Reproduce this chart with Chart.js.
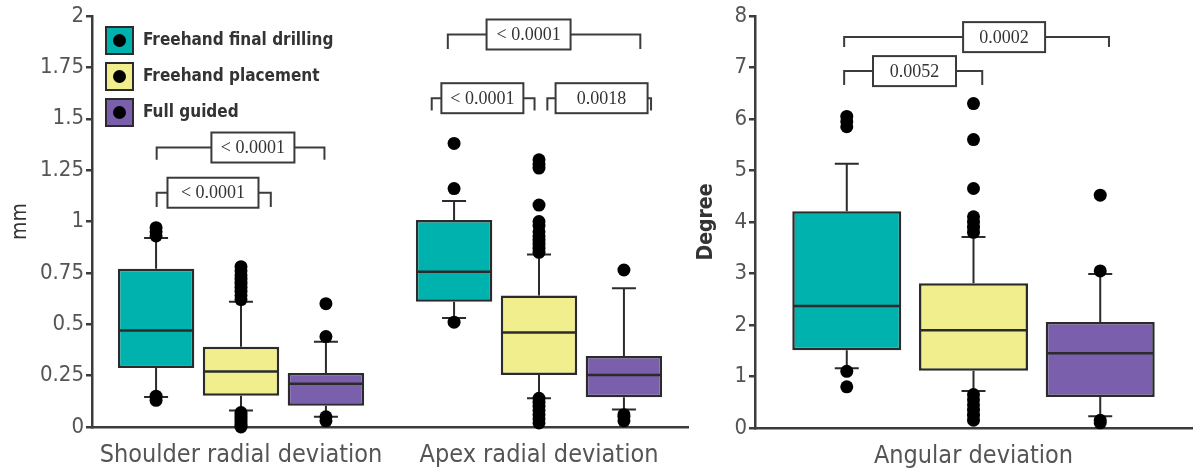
<!DOCTYPE html>
<html>
<head>
<meta charset="utf-8">
<script src="https://cdn.jsdelivr.net/npm/chart.js@4"></script>
<style>
    html, body { margin: 0; padding: 0; background: #fff; }
    #wrap { position: relative; width: 1197px; height: 470px; }
    .panel { position: absolute; top: 0; height: 470px; }
    #leftPanel { left: 0; width: 690px; }
    #rightPanel { left: 690px; width: 507px; }
</style>
</head>
<body>
<div id="wrap">
    <div class="panel" id="leftPanel"><canvas id="mmChart"></canvas></div>
    <div class="panel" id="rightPanel"><canvas id="degChart"></canvas></div>
</div>
<script>
// groups and categories
const groups = ['Freehand final drilling', 'Freehand placement', 'Full guided'];
const groupColors = ['#00b2ae', '#f1ee8e', '#7a5fac'];
const mmCategories = ['Shoulder radial deviation', 'Apex radial deviation'];
const degCategories = ['Angular deviation'];

// box stats per category: [whisker low, q1, median, q3, whisker high]
const mmDrilling = [[0.146, 0.287, 0.47, 0.77, 0.92], [0.53, 0.61, 0.755, 1.007, 1.10]];
const mmPlacement = [[0.08, 0.152, 0.27, 0.39, 0.61], [0.14, 0.253, 0.46, 0.64, 0.84]];
const mmGuided = [[0.05, 0.103, 0.21, 0.263, 0.415], [0.085, 0.145, 0.253, 0.345, 0.675]];

const mmDrillingOut = [[0.13, 0.15, 0.93, 0.95, 0.97], [0.51, 1.16, 1.38]];
const mmPlacementOut = [
    [0.0, 0.01, 0.02, 0.03, 0.04, 0.05, 0.06, 0.07, 0.62, 0.64, 0.66, 0.68, 0.70, 0.72, 0.74, 0.76, 0.78],
    [0.02, 0.04, 0.06, 0.08, 0.10, 0.12, 0.14, 0.85, 0.87, 0.89, 0.91, 0.93, 0.95, 0.98, 1.0, 1.08, 1.26, 1.28, 1.30]
];
const mmGuidedOut = [[0.03, 0.05, 0.44, 0.60], [0.03, 0.05, 0.06, 0.764]];

const degDrilling = [[1.16, 1.51, 2.37, 4.21, 5.13]];
const degPlacement = [[0.72, 1.11, 1.9, 2.81, 3.71]];
const degGuided = [[0.23, 0.6, 1.45, 2.06, 2.99]];

const degDrillingOut = [[0.8, 1.1, 5.85, 5.95, 6.05]];
const degPlacementOut = [[0.15, 0.25, 0.35, 0.45, 0.55, 0.65, 3.8, 3.9, 4.0, 4.1, 4.65, 5.6, 6.3]];
const degGuidedOut = [[0.1, 0.15, 3.05, 4.52]];

// tick labels
const mmTicks = [0, 0.25, 0.5, 0.75, 1, 1.25, 1.5, 1.75, 2];
const degTicks = [0, 1, 2, 3, 4, 5, 6, 7, 8];

// p-values for the comparison brackets
const mmPValues = ['< 0.0001', '< 0.0001', '< 0.0001', '< 0.0001', '0.0018'];
const degPValues = ['0.0052', '0.0002'];

const INK = '#2b2b2b';
const AXIS = '#3c3c3c';
const TICK_FONT = "'DejaVu Sans Condensed', 'DejaVu Sans', sans-serif";

function boxDataset(i, stats, outliers) {
    return {
        label: groups[i],
        data: stats.map(s => [s[1], s[3]]),
        stats: stats,
        outliers: outliers,
        backgroundColor: groupColors[i],
        borderColor: INK,
        borderWidth: 2.5,
        borderSkipped: false,
        barPercentage: 0.9,
        categoryPercentage: 0.855
    };
}

// draws whiskers, medians, outliers, brackets and the legend
const boxPlugin = {
    id: 'boxExtras',
    afterDatasetsDraw(chart, args, opts) {
        const ctx = chart.ctx;
        const xs = chart.scales.x;
        const ys = chart.scales.y;
        ctx.save();
        chart.data.datasets.forEach((ds, di) => {
            const meta = chart.getDatasetMeta(di);
            meta.data.forEach((bar, i) => {
                const s = ds.stats[i];
                const x = bar.x;
                const half = bar.width / 2;
                const cap = 12;
                ctx.strokeStyle = INK;
                ctx.lineWidth = 2;
                ctx.beginPath();
                ctx.moveTo(x, ys.getPixelForValue(s[3]));
                ctx.lineTo(x, ys.getPixelForValue(s[4]));
                ctx.moveTo(x - cap, ys.getPixelForValue(s[4]));
                ctx.lineTo(x + cap, ys.getPixelForValue(s[4]));
                ctx.moveTo(x, ys.getPixelForValue(s[1]));
                ctx.lineTo(x, ys.getPixelForValue(s[0]));
                ctx.moveTo(x - cap, ys.getPixelForValue(s[0]));
                ctx.lineTo(x + cap, ys.getPixelForValue(s[0]));
                ctx.stroke();
                ctx.lineWidth = 2.5;
                ctx.beginPath();
                ctx.moveTo(x - half + 1, ys.getPixelForValue(s[2]));
                ctx.lineTo(x + half - 1, ys.getPixelForValue(s[2]));
                ctx.stroke();
                ctx.fillStyle = '#000';
                ds.outliers[i].forEach(v => {
                    ctx.beginPath();
                    ctx.arc(x, ys.getPixelForValue(v), 6.5, 0, Math.PI * 2);
                    ctx.fill();
                });
            });
        });

        // comparison brackets
        (opts.brackets || []).forEach((b, k) => {
            const x1 = xs.getPixelForValue(b.cat + b.from);
            const x2 = xs.getPixelForValue(b.cat + b.to);
            const y = ys.getPixelForValue(b.y);
            const yl = ys.getPixelForValue(b.leg);
            ctx.strokeStyle = AXIS;
            ctx.lineWidth = 2;
            ctx.beginPath();
            ctx.moveTo(x1, yl);
            ctx.lineTo(x1, y);
            ctx.lineTo(x2, y);
            ctx.lineTo(x2, yl);
            ctx.stroke();
            const lx = xs.getPixelForValue(b.cat + b.label);
            ctx.fillStyle = '#fff';
            ctx.fillRect(lx - b.w / 2, y - 15, b.w, 30);
            ctx.strokeStyle = '#3a3a3a';
            ctx.lineWidth = 2;
            ctx.strokeRect(lx - b.w / 2, y - 15, b.w, 30);
            ctx.fillStyle = '#333';
            ctx.font = "18px 'Liberation Serif', serif";
            ctx.textAlign = 'center';
            ctx.textBaseline = 'middle';
            ctx.fillText(opts.pValues[k], lx, y + 1);
        });

        // legend inside the plot
        if (opts.legend) {
            const area = chart.chartArea;
            chart.data.datasets.forEach((ds, i) => {
                const lx = area.left + 14;
                const ly = area.top + 11 + i * 36;
                ctx.fillStyle = ds.backgroundColor;
                ctx.fillRect(lx, ly, 27, 27);
                ctx.strokeStyle = INK;
                ctx.lineWidth = 2;
                ctx.strokeRect(lx, ly, 27, 27);
                ctx.fillStyle = '#000';
                ctx.beginPath();
                ctx.arc(lx + 13.5, ly + 13.5, 6.5, 0, Math.PI * 2);
                ctx.fill();
                ctx.fillStyle = '#333';
                ctx.font = "bold 17px " + TICK_FONT;
                ctx.textAlign = 'left';
                ctx.textBaseline = 'middle';
                ctx.fillText(ds.label, lx + 37, ly + 14);
            });
        }
        ctx.restore();
    }
};

function makeScales(tickValues, max, yTitle, yWidth, xHeight, titleGap, titleWeight) {
    return {
        x: {
            type: 'category',
            offset: true,
            grid: { display: false },
            border: { display: true, color: AXIS, width: 2.5 },
            ticks: { color: '#555', font: { family: TICK_FONT, size: 25 }, padding: 5 },
            afterFit: scale => { scale.height = xHeight; }
        },
        y: {
            min: 0,
            max: max,
            afterBuildTicks: scale => { scale.ticks = tickValues.map(v => ({ value: v })); },
            grid: { drawOnChartArea: false, drawTicks: true, tickLength: 6, color: AXIS, lineWidth: 2.5 },
            border: { display: true, color: AXIS, width: 2.5 },
            ticks: {
                color: '#555',
                font: { family: TICK_FONT, size: 22 },
                padding: 2,
                callback: v => String(v)
            },
            title: {
                display: true,
                text: yTitle,
                color: '#333',
                font: { family: TICK_FONT, size: 21, weight: titleWeight },
                padding: { top: titleGap, bottom: 0 }
            },
            afterFit: scale => { scale.width = yWidth; }
        }
    };
}

const baseOptions = {
    responsive: true,
    maintainAspectRatio: false,
    animation: false,
    plugins: {
        legend: { display: false },
        tooltip: { enabled: false }
    }
};

new Chart(document.getElementById('mmChart'), {
    type: 'bar',
    data: {
        labels: mmCategories,
        datasets: [
            boxDataset(0, mmDrilling, mmDrillingOut),
            boxDataset(1, mmPlacement, mmPlacementOut),
            boxDataset(2, mmGuided, mmGuidedOut)
        ]
    },
    options: {
        ...baseOptions,
        layout: { padding: { top: 16, right: 2, left: 0, bottom: 0 } },
        scales: makeScales(mmTicks, 2, 'mm', 92, 43, 8, 'normal'),
        plugins: {
            ...baseOptions.plugins,
            boxExtras: {
                legend: true,
                pValues: mmPValues,
                brackets: [
                    { cat: 0, from: -0.283, to: 0.10, y: 1.14, leg: 1.07, label: -0.094, w: 91 },
                    { cat: 0, from: -0.283, to: 0.28, y: 1.36, leg: 1.30, label: 0.04, w: 83 },
                    { cat: 1, from: -0.306, to: 0.34, y: 1.91, leg: 1.84, label: -0.035, w: 84 },
                    { cat: 1, from: -0.36, to: -0.015, y: 1.60, leg: 1.54, label: -0.19, w: 82 },
                    { cat: 1, from: 0.028, to: 0.376, y: 1.60, leg: 1.54, label: 0.21, w: 92 }
                ]
            }
        }
    },
    plugins: [boxPlugin]
});

const degDatasets = [
    boxDataset(0, degDrilling, degDrillingOut),
    boxDataset(1, degPlacement, degPlacementOut),
    boxDataset(2, degGuided, degGuidedOut)
];
degDatasets.forEach(ds => { ds.barPercentage = 0.86; ds.categoryPercentage = 0.87; });

new Chart(document.getElementById('degChart'), {
    type: 'bar',
    data: { labels: degCategories, datasets: degDatasets },
    options: {
        ...baseOptions,
        layout: { padding: { top: 16, right: 5, left: 0, bottom: 0 } },
        scales: makeScales(degTicks, 8, 'Degree', 65, 42, 4, 'bold'),
        plugins: {
            ...baseOptions.plugins,
            boxExtras: {
                legend: false,
                pValues: degPValues,
                brackets: [
                    { cat: 0, from: -0.296, to: 0.02, y: 6.93, leg: 6.66, label: -0.135, w: 83 },
                    { cat: 0, from: -0.296, to: 0.31, y: 7.59, leg: 7.40, label: 0.07, w: 82 }
                ]
            }
        }
    },
    plugins: [boxPlugin]
});
</script>
</body>
</html>
